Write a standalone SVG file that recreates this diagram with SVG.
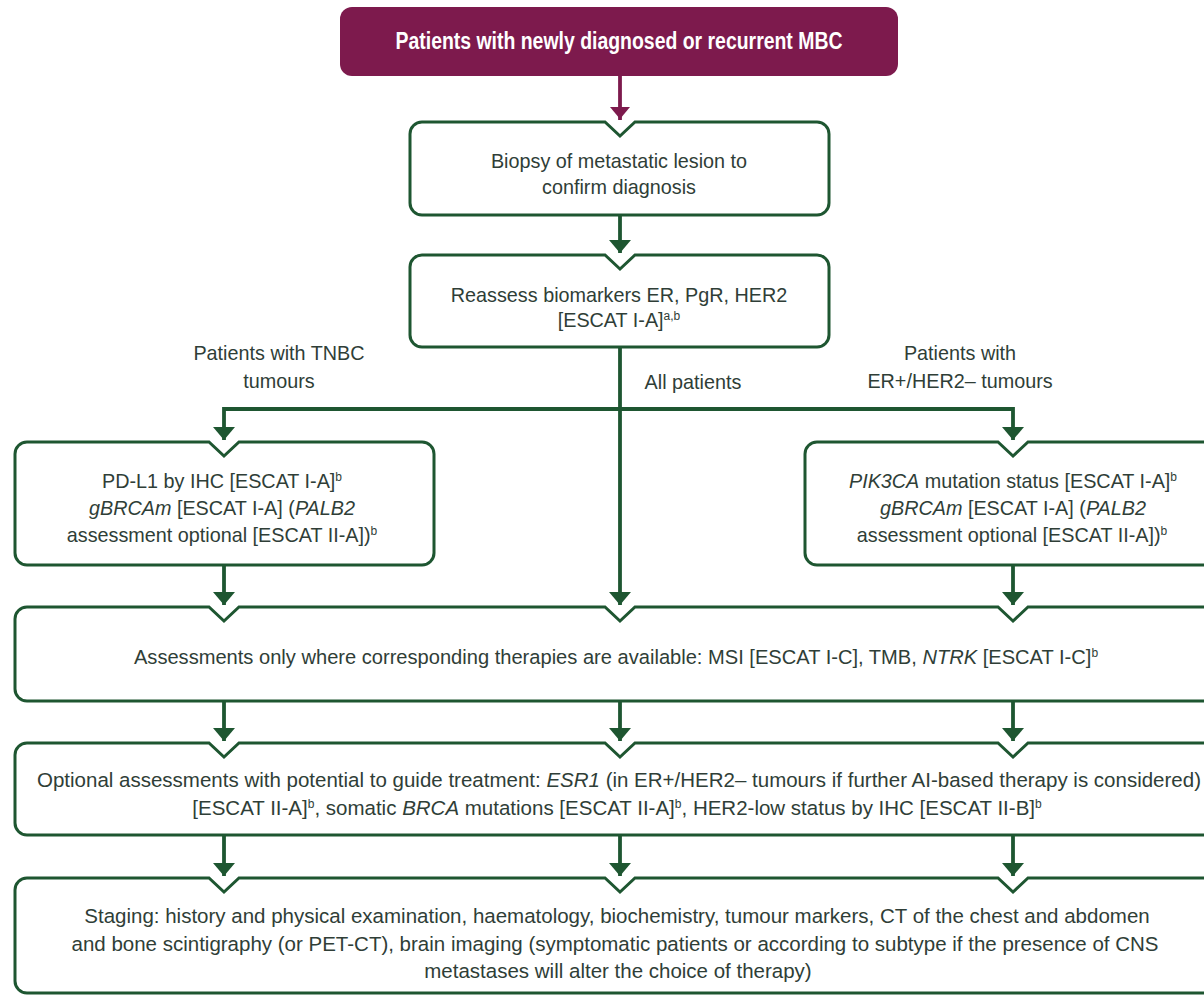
<svg xmlns="http://www.w3.org/2000/svg" width="1204" height="995" viewBox="0 0 1204 995">
<style>
.t{font-family:"Liberation Sans",Arial,sans-serif;font-size:19.8px;fill:#2f3e37;text-anchor:middle}
.w1{font-size:20.1px}
.w2{font-size:20.5px}
.i{font-style:italic}
.s{font-size:12px}
.box{fill:#fff;stroke:#1E5631;stroke-width:3;stroke-linejoin:miter}
.ln{fill:none;stroke:#1E5631;stroke-width:3.8;marker-end:url(#ah)}
.lm{fill:none;stroke:#7D1A4D;stroke-width:3.8;marker-end:url(#am)}
</style>
<defs>
<marker id="ah" markerUnits="userSpaceOnUse" markerWidth="14" markerHeight="24" viewBox="0 -12 14 24" refX="13" refY="0" orient="auto"><path d="M0,-11 L13,0 L0,11 Z" fill="#1E5631"/></marker>
<marker id="am" markerUnits="userSpaceOnUse" markerWidth="14" markerHeight="24" viewBox="0 -12 14 24" refX="13" refY="0" orient="auto"><path d="M0,-10 L12,0 L0,10 Z" fill="#7D1A4D"/></marker>
</defs>
<rect width="1204" height="995" fill="#fff"/>

<g id="connectors">
<path class="lm" d="M620,76 V120"/>
<path class="ln" d="M620,215 V253"/>
<path class="ln" d="M620,347 V605"/>
<path class="ln" d="M620,409 H224 V440"/>
<path class="ln" d="M620,409 H1013 V440"/>
<path class="ln" d="M224,565 V605"/>
<path class="ln" d="M1013,565 V605"/>
<path class="ln" d="M224,701 V741"/>
<path class="ln" d="M620,701 V741"/>
<path class="ln" d="M1013,701 V741"/>
<path class="ln" d="M224,835 V876"/>
<path class="ln" d="M620,835 V876"/>
<path class="ln" d="M1013,835 V876"/>
</g>

<g id="labels">
<text class="t" x="279" y="360">Patients with TNBC</text>
<text class="t" x="279" y="388">tumours</text>
<text class="t" x="693" y="389">All patients</text>
<text class="t" x="960" y="360">Patients with</text>
<text class="t" x="960" y="388">ER+/HER2– tumours</text>
</g>

<g id="start">
<rect x="340" y="7" width="558" height="69" rx="12" fill="#7D1A4D"/>
<g transform="translate(619,49) scale(0.81,1)"><text x="0" y="0" style="font-family:'Liberation Sans',Arial,sans-serif;font-size:24px;font-weight:bold;fill:#fff;text-anchor:middle">Patients with newly diagnosed or recurrent MBC</text></g>
</g>

<g id="biopsy">
<path class="box" d="M422,122 H605 L620,136 L635,122 H817 A12,12 0 0 1 829,134 V203 A12,12 0 0 1 817,215 H422 A12,12 0 0 1 410,203 V134 A12,12 0 0 1 422,122 Z"/>
<text class="t" x="619" y="168">Biopsy of metastatic lesion to</text>
<text class="t" x="619" y="194">confirm diagnosis</text>
</g>

<g id="reassess">
<path class="box" d="M422,255 H605 L620,269 L635,255 H817 A12,12 0 0 1 829,267 V335 A12,12 0 0 1 817,347 H422 A12,12 0 0 1 410,335 V267 A12,12 0 0 1 422,255 Z"/>
<text class="t" x="619" y="302">Reassess biomarkers ER, PgR, HER2</text>
<text class="t" x="619" y="327">[ESCAT I-A]<tspan class="s" dy="-7">a,b</tspan></text>
</g>

<g id="tnbc">
<path class="box" d="M27,442 H209 L224,456 L239,442 H422 A12,12 0 0 1 434,454 V553 A12,12 0 0 1 422,565 H27 A12,12 0 0 1 15,553 V454 A12,12 0 0 1 27,442 Z"/>
<text class="t" x="222" y="488">PD-L1 by IHC [ESCAT I-A]<tspan class="s" dy="-7">b</tspan></text>
<text class="t" x="222" y="515"><tspan class="i">gBRCAm</tspan> [ESCAT I-A] (<tspan class="i">PALB2</tspan></text>
<text class="t" x="222" y="542">assessment optional [ESCAT II-A])<tspan class="s" dy="-7">b</tspan></text>
</g>

<g id="erpos">
<path class="box" d="M817,442 H998 L1013,456 L1028,442 H1209 A12,12 0 0 1 1221,454 V553 A12,12 0 0 1 1209,565 H817 A12,12 0 0 1 805,553 V454 A12,12 0 0 1 817,442 Z"/>
<text class="t" x="1013" y="488"><tspan class="i">PIK3CA</tspan> mutation status [ESCAT I-A]<tspan class="s" dy="-7">b</tspan></text>
<text class="t" x="1013" y="515"><tspan class="i">gBRCAm</tspan> [ESCAT I-A] (<tspan class="i">PALB2</tspan></text>
<text class="t" x="1012" y="542">assessment optional [ESCAT II-A])<tspan class="s" dy="-7">b</tspan></text>
</g>

<g id="assessments">
<path class="box" d="M27,607 H209 L224,621 L239,607 H605 L620,621 L635,607 H998 L1013,621 L1028,607 H1213 A12,12 0 0 1 1225,619 V689 A12,12 0 0 1 1213,701 H27 A12,12 0 0 1 15,689 V619 A12,12 0 0 1 27,607 Z"/>
<text class="t w1" x="616" y="664">Assessments only where corresponding therapies are available: MSI [ESCAT I-C], TMB, <tspan class="i">NTRK</tspan> [ESCAT I-C]<tspan class="s" dy="-7">b</tspan></text>
</g>

<g id="optional">
<path class="box" d="M27,743 H209 L224,757 L239,743 H605 L620,757 L635,743 H998 L1013,757 L1028,743 H1213 A12,12 0 0 1 1225,755 V823 A12,12 0 0 1 1213,835 H27 A12,12 0 0 1 15,823 V755 A12,12 0 0 1 27,743 Z"/>
<text class="t w2" x="619" y="787">Optional assessments with potential to guide treatment: <tspan class="i">ESR1</tspan> (in ER+/HER2– tumours if further AI-based therapy is considered)</text>
<text class="t w2" x="617" y="815">[ESCAT II-A]<tspan class="s" dy="-7">b</tspan><tspan dy="7">, somatic </tspan><tspan class="i">BRCA</tspan> mutations [ESCAT II-A]<tspan class="s" dy="-7">b</tspan><tspan dy="7">, HER2-low status by IHC [ESCAT II-B]</tspan><tspan class="s" dy="-7">b</tspan></text>
</g>

<g id="staging">
<path class="box" d="M27,878 H209 L224,892 L239,878 H605 L620,892 L635,878 H998 L1013,892 L1028,878 H1213 A12,12 0 0 1 1225,890 V981 A12,12 0 0 1 1213,993 H27 A12,12 0 0 1 15,981 V890 A12,12 0 0 1 27,878 Z"/>
<text class="t w2" x="617" y="923">Staging: history and physical examination, haematology, biochemistry, tumour markers, CT of the chest and abdomen</text>
<text class="t w2" x="615" y="951">and bone scintigraphy (or PET-CT), brain imaging (symptomatic patients or according to subtype if the presence of CNS</text>
<text class="t w2" x="618" y="978">metastases will alter the choice of therapy)</text>
</g>
</svg>
